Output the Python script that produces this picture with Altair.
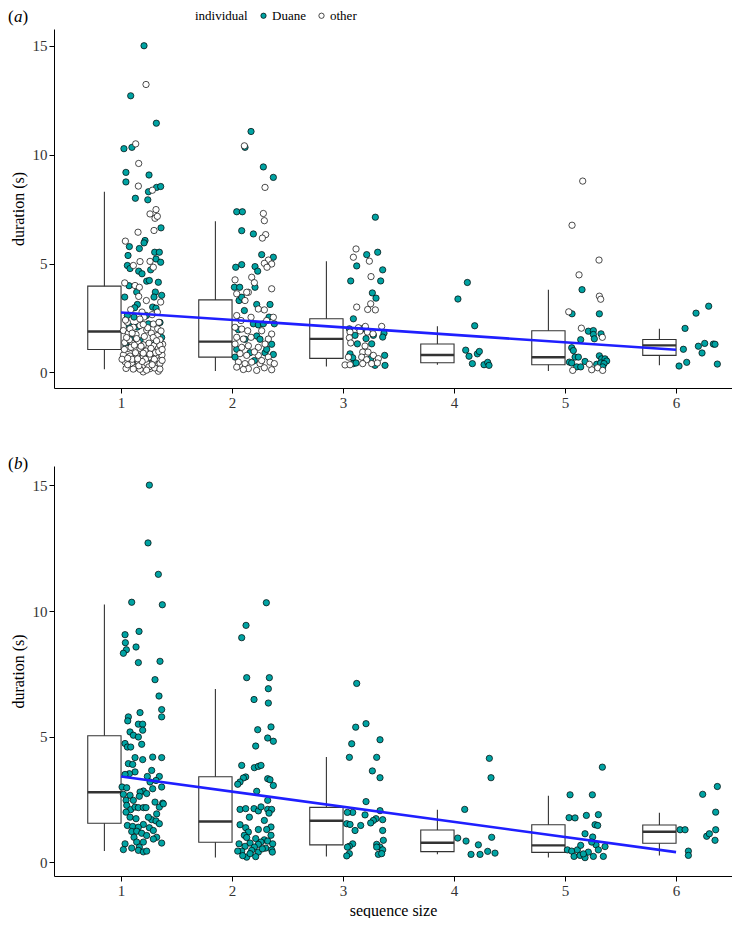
import altair as alt
import pandas as pd

TEAL = "#00A3A3"
FONT = "Liberation Serif"
GROUPS = [1, 2, 3, 4, 5, 6]

# ---------------- panel (a) box statistics (lower whisker, Q1, median, Q3, upper whisker)
A_LO = [0.14, 0.06, 0.27, 0.35, 0.06, 0.32]
A_Q1 = [1.05, 0.70, 0.64, 0.44, 0.35, 0.78]
A_MED = [1.88, 1.41, 1.54, 0.80, 0.69, 1.24]
A_Q3 = [3.96, 3.33, 2.46, 1.30, 1.91, 1.51]
A_HI = [8.30, 6.94, 5.10, 2.12, 3.79, 2.00]
A_FIT_X = [1, 6]
A_FIT_Y = [2.75, 1.04]

# ---------------- panel (b) box statistics
B_LO = [0.45, 0.20, 0.24, 0.33, 0.20, 0.28]
B_Q1 = [1.56, 0.80, 0.70, 0.43, 0.40, 0.76]
B_MED = [2.79, 1.63, 1.66, 0.78, 0.68, 1.22]
B_Q3 = [5.04, 3.41, 2.19, 1.29, 1.50, 1.49]
B_HI = [10.26, 6.90, 4.19, 2.10, 2.65, 1.98]
B_FIT_X = [1, 6]
B_FIT_Y = [3.42, 0.41]

# ---------------- points: (jitter offset from group, duration)
A1_DUANE = [(0.207, 15.01), (0.087, 12.71), (0.318, 11.45), (0.026, 10.28), (0.098, 10.34), (0.044, 9.19),
            (0.044, 8.75), (0.252, 9.07), (0.129, 8.0), (0.241, 7.93), (0.247, 8.3), (0.32, 8.5), (0.357, 8.54),
            (0.36, 6.64), (0.216, 6.06), (0.207, 5.95), (0.075, 5.78), (0.165, 5.69), (0.063, 5.37), (0.303, 5.52),
            (0.345, 5.52), (0.315, 5.21), (0.357, 5.06), (0.057, 4.91), (0.081, 4.77), (0.159, 4.65), (0.267, 4.71),
            (0.189, 4.53), (0.231, 4.19), (0.255, 4.22), (0.072, 3.98), (0.336, 4.14), (0.141, 3.69), (0.309, 3.69),
            (0.297, 3.46), (0.366, 3.54), (0.033, 3.46), (0.147, 3.12), (0.123, 2.97), (0.285, 3.0), (0.315, 2.95),
            (0.057, 2.61), (0.117, 2.54), (0.228, 2.61), (0.246, 2.23), (0.147, 2.08), (0.075, 2.12), (0.351, 2.29),
            (0.366, 1.6), (0.087, 1.52), (0.171, 1.45), (0.306, 1.29), (0.045, 1.22), (0.207, 0.69), (0.237, 0.46),
            (0.336, 1.0), (0.099, 0.40)]
A1_OTHER = [(0.225, 13.23), (0.132, 10.5), (0.159, 9.6), (0.156, 8.56), (0.282, 8.37), (0.315, 7.48), (0.261, 7.28),
            (0.306, 7.08), (0.153, 6.44), (0.297, 6.52), (0.039, 6.03), (0.327, 7.17), (0.171, 5.09), (0.111, 4.91),
            (0.261, 5.1), (0.291, 4.83), (0.033, 4.11), (0.126, 3.99), (0.165, 3.91), (0.228, 3.3), (0.159, 3.49),
            (0.357, 3.23), (0.087, 2.88), (0.189, 2.77), (0.327, 2.77), (0.057, 2.3), (0.207, 2.54), (0.291, 2.22),
            (0.342, 2.3), (0.111, 2.07), (0.171, 2.15), (0.021, 1.92), (0.066, 1.8), (0.231, 1.95), (0.135, 1.74),
            (0.273, 1.8), (0.327, 1.69), (0.033, 1.37), (0.102, 1.34), (0.153, 1.4), (0.201, 1.26), (0.252, 1.34),
            (0.297, 1.23), (0.375, 1.29), (0.063, 1.1), (0.123, 1.03), (0.171, 1.1), (0.225, 0.98), (0.270, 1.03),
            (0.336, 1.1), (0.021, 0.8), (0.081, 0.75), (0.141, 0.8), (0.2, 0.72), (0.261, 0.69), (0.315, 0.75),
            (0.369, 0.80), (0.036, 0.49), (0.096, 0.41), (0.156, 0.49), (0.231, 0.41), (0.291, 0.49), (0.351, 0.41),
            (0.045, 0.18), (0.126, 0.21), (0.2, 0.02), (0.261, 0.17), (0.336, 0.05), (0.009, 0.6), (0.075, 1.5),
            (0.351, 1.5), (0.171, 0.14), (0.303, 0.2),
            (0.05, 1.6), (0.09, 1.15), (0.13, 0.9), (0.18, 1.2), (0.22, 0.6), (0.27, 1.1), (0.31, 0.9), (0.35, 1.25),
            (0.06, 0.35), (0.1, 0.6), (0.16, 0.3), (0.21, 1.65), (0.25, 0.25), (0.3, 0.6), (0.34, 0.95), (0.37, 0.55),
            (0.03, 1.05), (0.08, 2.0), (0.14, 1.55), (0.19, 0.5), (0.24, 2.05), (0.29, 1.6), (0.33, 2.0), (0.37, 1.05),
            (0.12, 1.25), (0.2, 0.88), (0.28, 0.35), (0.06, 0.65), (0.15, 0.62), (0.26, 0.84), (0.32, 1.45),
            (0.11, 0.15), (0.23, 0.1), (0.35, 0.15), (0.04, 2.4), (0.17, 2.45), (0.28, 2.65), (0.36, 1.9), (0.1, 1.8),
            (0.2, 2.2)]
A2_DUANE = [(0.171, 11.07), (0.117, 10.34), (0.282, 9.44), (0.372, 8.96), (0.042, 7.38), (0.093, 7.38), (0.087, 6.51),
            (0.192, 6.36), (0.267, 5.41), (0.372, 5.29), (0.087, 4.95), (0.033, 4.83), (0.207, 4.86), (0.231, 4.65),
            (0.021, 3.91), (0.069, 3.91), (0.207, 3.91), (0.063, 3.3), (0.087, 3.45), (0.222, 3.12), (0.342, 3.12),
            (0.111, 2.84), (0.333, 2.54), (0.381, 2.23), (0.192, 2.23), (0.237, 2.18), (0.282, 2.23), (0.057, 1.96),
            (0.222, 1.67), (0.252, 1.52), (0.357, 1.29), (0.042, 1.06), (0.162, 0.9), (0.297, 0.9), (0.372, 0.82),
            (0.201, 0.54), (0.027, 0.70), (0.312, 1.06), (0.117, 1.52)]
A2_OTHER = [(0.111, 10.41), (0.282, 7.3), (0.291, 6.97), (0.297, 8.5), (0.303, 6.33), (0.273, 6.17), (0.327, 5.16),
            (0.291, 5.01), (0.357, 4.98), (0.315, 4.83), (0.177, 4.37), (0.201, 4.12), (0.147, 3.68), (0.027, 4.25),
            (0.357, 3.84), (0.042, 3.61), (0.117, 3.3), (0.132, 3.68), (0.237, 2.91), (0.291, 2.87), (0.042, 2.61),
            (0.081, 2.38), (0.171, 2.53), (0.312, 2.38), (0.372, 2.53), (0.027, 2.07), (0.087, 1.99), (0.141, 1.91),
            (0.267, 1.91), (0.357, 1.76), (0.042, 1.61), (0.102, 1.53), (0.171, 1.61), (0.327, 1.53), (0.027, 1.30),
            (0.087, 1.15), (0.147, 1.22), (0.237, 1.15), (0.297, 1.30), (0.072, 0.86), (0.132, 0.78), (0.237, 0.78),
            (0.327, 0.70), (0.057, 0.47), (0.117, 0.40), (0.177, 0.47), (0.252, 0.40), (0.342, 0.47), (0.042, 0.24),
            (0.147, 0.17), (0.222, 0.09), (0.291, 0.21), (0.357, 0.12), (0.102, 0.13), (0.201, 0.94), (0.267, 0.54),
            (0.381, 0.40)]
A3_DUANE = [(0.291, 7.13), (0.213, 5.41), (0.312, 5.52), (0.123, 4.89), (0.357, 4.71), (0.069, 4.20), (0.339, 4.20),
            (0.264, 3.65), (0.297, 3.41), (0.093, 2.46), (0.057, 2.0), (0.171, 2.0), (0.213, 1.93), (0.369, 1.80),
            (0.108, 1.70), (0.273, 1.70), (0.357, 1.62), (0.207, 1.55), (0.129, 1.31), (0.258, 1.31), (0.063, 0.85),
            (0.087, 0.67), (0.375, 0.78), (0.288, 0.32), (0.378, 0.32), (0.093, 0.40), (0.249, 0.63), (0.117, 0.43)]
A3_OTHER = [(0.117, 5.67), (0.093, 5.29), (0.237, 5.11), (0.252, 4.40), (0.123, 3.0), (0.222, 2.89), (0.291, 2.87),
            (0.249, 3.15), (0.138, 2.05), (0.201, 2.11), (0.348, 2.11), (0.063, 1.85), (0.153, 1.9), (0.219, 1.85),
            (0.057, 1.59), (0.27, 1.77), (0.069, 1.35), (0.198, 1.21), (0.177, 0.93), (0.225, 0.93), (0.273, 0.78),
            (0.048, 0.70), (0.168, 0.70), (0.318, 0.63), (0.213, 0.58), (0.018, 0.34), (0.063, 0.35), (0.177, 0.40),
            (0.258, 0.40), (0.309, 0.43)]
A4_DUANE = [(0.12, 4.13), (0.035, 3.37), (0.186, 2.14), (0.105, 1.02), (0.135, 0.74), (0.210, 0.85), (0.228, 0.96),
            (0.165, 0.40), (0.270, 0.35), (0.303, 0.46), (0.315, 0.32)]
A4_OTHER = []
A5_DUANE = [(0.153, 3.8), (0.063, 2.69), (0.309, 2.69), (0.21, 1.89), (0.255, 1.92), (0.324, 1.77), (0.255, 1.74),
            (0.264, 1.54), (0.141, 1.5), (0.06, 1.13), (0.075, 1.0), (0.09, 0.70), (0.12, 0.70), (0.039, 0.47),
            (0.06, 0.43), (0.105, 0.25), (0.141, 0.25), (0.18, 0.50), (0.309, 0.76), (0.33, 0.62), (0.36, 0.62),
            (0.375, 0.52), (0.285, 0.37), (0.321, 0.43), (0.351, 0.40), (0.339, 0.25)]
A5_OTHER = [(0.159, 8.79), (0.063, 6.76), (0.306, 5.16), (0.126, 4.48), (0.309, 3.5), (0.321, 3.36), (0.033, 2.78),
            (0.147, 2.03), (0.336, 1.61), (0.069, 0.09), (0.24, 0.12), (0.294, 0.21), (0.339, 0.09), (0.219, 0.37)]
A6_DUANE = [(0.294, 3.04), (0.18, 2.72), (0.081, 2.02), (0.066, 1.06), (0.201, 1.2), (0.258, 1.33), (0.234, 0.89),
            (0.336, 1.30), (0.351, 1.29), (0.096, 0.46), (0.027, 0.29), (0.372, 0.38)]
A6_OTHER = []

B1 = [(0.255, 15.01), (0.243, 12.71), (0.336, 11.46), (0.096, 10.35), (0.372, 10.25), (0.036, 9.06), (0.162, 9.19),
      (0.039, 8.74), (0.135, 8.57), (0.048, 8.46), (0.021, 8.32), (0.156, 7.95), (0.351, 8.0), (0.306, 7.27),
      (0.342, 6.62), (0.366, 6.08), (0.366, 5.79), (0.066, 5.79), (0.171, 5.96), (0.06, 5.63), (0.156, 5.50),
      (0.195, 5.50), (0.081, 5.19), (0.111, 5.06), (0.195, 5.26), (0.156, 4.99), (0.036, 4.73), (0.057, 4.59),
      (0.087, 4.59), (0.186, 4.70), (0.126, 4.17), (0.195, 4.09), (0.285, 4.19), (0.366, 4.17), (0.066, 3.93),
      (0.105, 3.9), (0.126, 3.6), (0.075, 3.53), (0.036, 3.5), (0.237, 3.42), (0.276, 3.66), (0.345, 3.42),
      (0.315, 3.26), (0.261, 3.2), (0.009, 3.0), (0.051, 2.97), (0.201, 2.84), (0.285, 2.93), (0.366, 3.0),
      (0.171, 2.80), (0.021, 2.71), (0.081, 2.67), (0.165, 2.63), (0.231, 2.74), (0.045, 2.47), (0.111, 2.47),
      (0.306, 2.40), (0.375, 2.36), (0.051, 2.27), (0.087, 2.10), (0.045, 2.0), (0.126, 2.2), (0.156, 2.18),
      (0.201, 2.18), (0.225, 2.18), (0.345, 2.2), (0.321, 1.93), (0.081, 1.8), (0.135, 1.74), (0.276, 1.70),
      (0.315, 1.65), (0.057, 1.47), (0.105, 1.43), (0.201, 1.51), (0.255, 1.38), (0.345, 1.54), (0.156, 1.40),
      (0.096, 1.23), (0.141, 1.24), (0.291, 1.27), (0.186, 1.16), (0.231, 1.07), (0.117, 1.0), (0.321, 1.0),
      (0.366, 0.77), (0.036, 0.74), (0.141, 0.81), (0.201, 0.81), (0.165, 0.61), (0.021, 0.51), (0.096, 0.57),
      (0.156, 0.48), (0.201, 0.42), (0.231, 0.45), (0.291, 0.93), (0.246, 1.80), (0.381, 2.33)]
B2 = [(0.309, 10.33), (0.126, 9.43), (0.087, 8.94), (0.132, 7.35), (0.336, 7.35), (0.327, 6.91), (0.198, 6.48),
      (0.327, 6.34), (0.231, 5.28), (0.351, 5.39), (0.321, 4.95), (0.372, 4.82), (0.213, 4.63), (0.087, 3.86),
      (0.201, 3.77), (0.237, 3.82), (0.261, 3.86), (0.123, 3.40), (0.102, 3.36), (0.072, 3.2), (0.051, 3.11),
      (0.321, 3.33), (0.342, 3.29), (0.372, 3.06), (0.222, 2.83), (0.321, 2.47), (0.072, 2.11), (0.123, 2.14),
      (0.198, 2.14), (0.237, 2.05), (0.261, 2.21), (0.321, 2.11), (0.357, 2.11), (0.333, 1.96), (0.156, 1.80),
      (0.291, 1.67), (0.072, 1.50), (0.123, 1.38), (0.351, 1.41), (0.237, 1.31), (0.312, 1.31), (0.147, 1.21),
      (0.111, 1.08), (0.132, 0.99), (0.351, 1.08), (0.213, 0.95), (0.291, 0.90), (0.321, 0.85), (0.261, 0.81),
      (0.162, 0.77), (0.237, 0.72), (0.366, 0.74), (0.201, 0.61), (0.117, 0.64), (0.063, 0.74), (0.303, 0.57),
      (0.357, 0.50), (0.177, 0.48), (0.087, 0.45), (0.051, 0.45), (0.237, 0.41), (0.273, 0.54), (0.132, 0.21),
      (0.213, 0.23), (0.096, 0.27), (0.162, 0.35), (0.363, 0.41)]
B3 = [(0.123, 7.12), (0.114, 5.38), (0.207, 5.52), (0.078, 4.72), (0.333, 4.88), (0.057, 4.18), (0.303, 4.18),
      (0.264, 3.64), (0.333, 3.37), (0.207, 2.42), (0.087, 1.99), (0.039, 1.99), (0.198, 1.89), (0.297, 1.74),
      (0.273, 1.67), (0.333, 2.06), (0.249, 1.57), (0.357, 1.70), (0.033, 1.54), (0.063, 1.51), (0.159, 1.47),
      (0.108, 1.27), (0.357, 1.27), (0.363, 0.88), (0.303, 0.72), (0.333, 0.61), (0.357, 0.50), (0.318, 0.32),
      (0.087, 0.74), (0.057, 0.64), (0.039, 0.61), (0.057, 0.35), (0.033, 0.26), (0.348, 0.35), (0.303, 0.61)]
B4 = [(0.318, 4.14), (0.333, 3.37), (0.096, 2.11), (0.033, 0.97), (0.108, 0.85), (0.219, 0.70), (0.339, 1.0),
      (0.153, 0.32), (0.234, 0.32), (0.303, 0.44), (0.369, 0.37)]
B5 = [(0.336, 3.79), (0.045, 2.69), (0.246, 2.69), (0.036, 1.78), (0.09, 1.77), (0.192, 1.87), (0.3, 1.90),
      (0.27, 1.50), (0.294, 1.47), (0.180, 1.14), (0.249, 1.01), (0.279, 0.70), (0.36, 0.63), (0.300, 0.50),
      (0.021, 0.50), (0.06, 0.45), (0.111, 0.50), (0.141, 0.68), (0.21, 0.41), (0.081, 0.24), (0.135, 0.28),
      (0.180, 0.19), (0.255, 0.24), (0.345, 0.24), (0.165, 0.34), (0.240, 0.81)]
B6 = [(0.372, 3.02), (0.240, 2.71), (0.357, 2.00), (0.036, 1.30), (0.081, 1.30), (0.276, 1.04), (0.300, 1.14),
      (0.357, 1.30), (0.351, 0.88), (0.111, 0.45), (0.111, 0.28)]

A_POINTS = {"Duane": [A1_DUANE, A2_DUANE, A3_DUANE, A4_DUANE, A5_DUANE, A6_DUANE],
            "other": [A1_OTHER, A2_OTHER, A3_OTHER, A4_OTHER, A5_OTHER, A6_OTHER]}
B_POINTS = {"Duane": [B1, B2, B3, B4, B5, B6]}

BOX_W = 0.3
XDOM = [0.396, 6.504]
PLOT_W = 678


def box_table(lo, q1, med, q3, hi):
    return pd.DataFrame({
        "g": GROUPS, "lo": lo, "q1": q1, "med": med, "q3": q3, "hi": hi,
        "x0": [g - BOX_W for g in GROUPS], "x1": GROUPS, "xc": [g - BOX_W / 2 for g in GROUPS],
    })


def point_table(points):
    rows = []
    for ind, groups in points.items():
        for g, pts in zip(GROUPS, groups):
            for off, v in pts:
                rows.append({"ind": ind, "x": g + off, "dur": v})
    return pd.DataFrame(rows)


def panel(box_df, pts_df, fit_x, fit_y, ydom, height, xtitle, tag, with_legend):
    xs = alt.Scale(domain=XDOM, nice=False, zero=False)
    ys = alt.Scale(domain=ydom, nice=False, zero=False)
    xaxis = alt.Axis(values=GROUPS, title=xtitle, format="d")
    yaxis = alt.Axis(values=[0, 5, 10, 15], title="duration (s)")

    whisk = alt.Chart(box_df).mark_rule(color="#333333", strokeWidth=1.1).encode(
        x=alt.X("xc:Q", scale=xs, axis=xaxis), y=alt.Y("lo:Q", scale=ys, axis=yaxis), y2="hi:Q")
    box = alt.Chart(box_df).mark_rect(fill="white", stroke="#333333", strokeWidth=1.1).encode(
        x=alt.X("x0:Q", scale=xs, axis=xaxis), x2="x1:Q", y=alt.Y("q1:Q", scale=ys, axis=yaxis), y2="q3:Q")
    med = alt.Chart(box_df).mark_rule(color="#333333", strokeWidth=2.4).encode(
        x=alt.X("x0:Q", scale=xs, axis=xaxis), x2="x1:Q", y=alt.Y("med:Q", scale=ys, axis=yaxis))

    if with_legend:
        fill = alt.Fill("ind:N", scale=alt.Scale(domain=["Duane", "other"], range=[TEAL, "white"]),
                        legend=alt.Legend(title="individual", orient="none", legendX=141, legendY=-20,
                                          direction="horizontal", titleOrient="left", titleFont=FONT,
                                          titleFontSize=13, titleFontWeight="normal", titleColor="black",
                                          titlePadding=9, labelFont=FONT, labelFontSize=13, labelColor="black",
                                          symbolType="circle", symbolSize=28, symbolStrokeColor="black",
                                          symbolStrokeWidth=0.7, labelOffset=2, columnPadding=9))
    else:
        fill = alt.value(TEAL)
    pts = alt.Chart(pts_df).mark_circle(size=40, stroke="black", strokeWidth=0.7, opacity=1).encode(
        x=alt.X("x:Q", scale=xs, axis=xaxis), y=alt.Y("dur:Q", scale=ys, axis=yaxis), fill=fill)

    fit_df = pd.DataFrame({"x": fit_x, "y": fit_y})
    fit = alt.Chart(fit_df).mark_line(color="#1F1FFF", strokeWidth=2.6).encode(
        x=alt.X("x:Q", scale=xs, axis=xaxis), y=alt.Y("y:Q", scale=ys, axis=yaxis))

    tag_df = pd.DataFrame({"t": ["("], "m": [tag], "c": [")"]})
    tag_y = -12 if with_legend else -2
    t1 = alt.Chart(tag_df).mark_text(font=FONT, fontSize=17, align="left", baseline="middle").encode(
        text="t:N", x=alt.value(-46), y=alt.value(tag_y))
    t2 = alt.Chart(tag_df).mark_text(font=FONT, fontSize=17, fontStyle="italic", align="left",
                                     baseline="middle").encode(text="m:N", x=alt.value(-40), y=alt.value(tag_y))
    t3 = alt.Chart(tag_df).mark_text(font=FONT, fontSize=17, align="left", baseline="middle").encode(
        text="c:N", x=alt.value(-31.5), y=alt.value(tag_y))

    return alt.layer(whisk, box, med, pts, fit, t1, t2, t3).properties(width=PLOT_W, height=height)


a = panel(box_table(A_LO, A_Q1, A_MED, A_Q3, A_HI), point_table(A_POINTS), A_FIT_X, A_FIT_Y,
          [-0.72, 15.78], 359, None, "a", True)
b = panel(box_table(B_LO, B_Q1, B_MED, B_Q3, B_HI), point_table(B_POINTS), B_FIT_X, B_FIT_Y,
          [-0.54, 15.77], 410, "sequence size", "b", False)

chart = alt.vconcat(a, b, spacing=45).resolve_legend(fill="independent").properties(
    padding={"left": 0, "top": 0, "right": 0, "bottom": 0}
).configure_view(stroke=None).configure_axis(
    grid=False, domainColor="black", domainWidth=1, tickColor="black", tickSize=5, tickWidth=1,
    labelFont=FONT, labelFontSize=15, labelColor="#333333", labelPadding=2,
    titleFont=FONT, titleFontSize=16, titleFontWeight="normal", titleColor="black", titlePadding=6,
).configure_axisX(titlePadding=4)

chart.save("out.html", embed_options={"renderer": "svg", "actions": False})
